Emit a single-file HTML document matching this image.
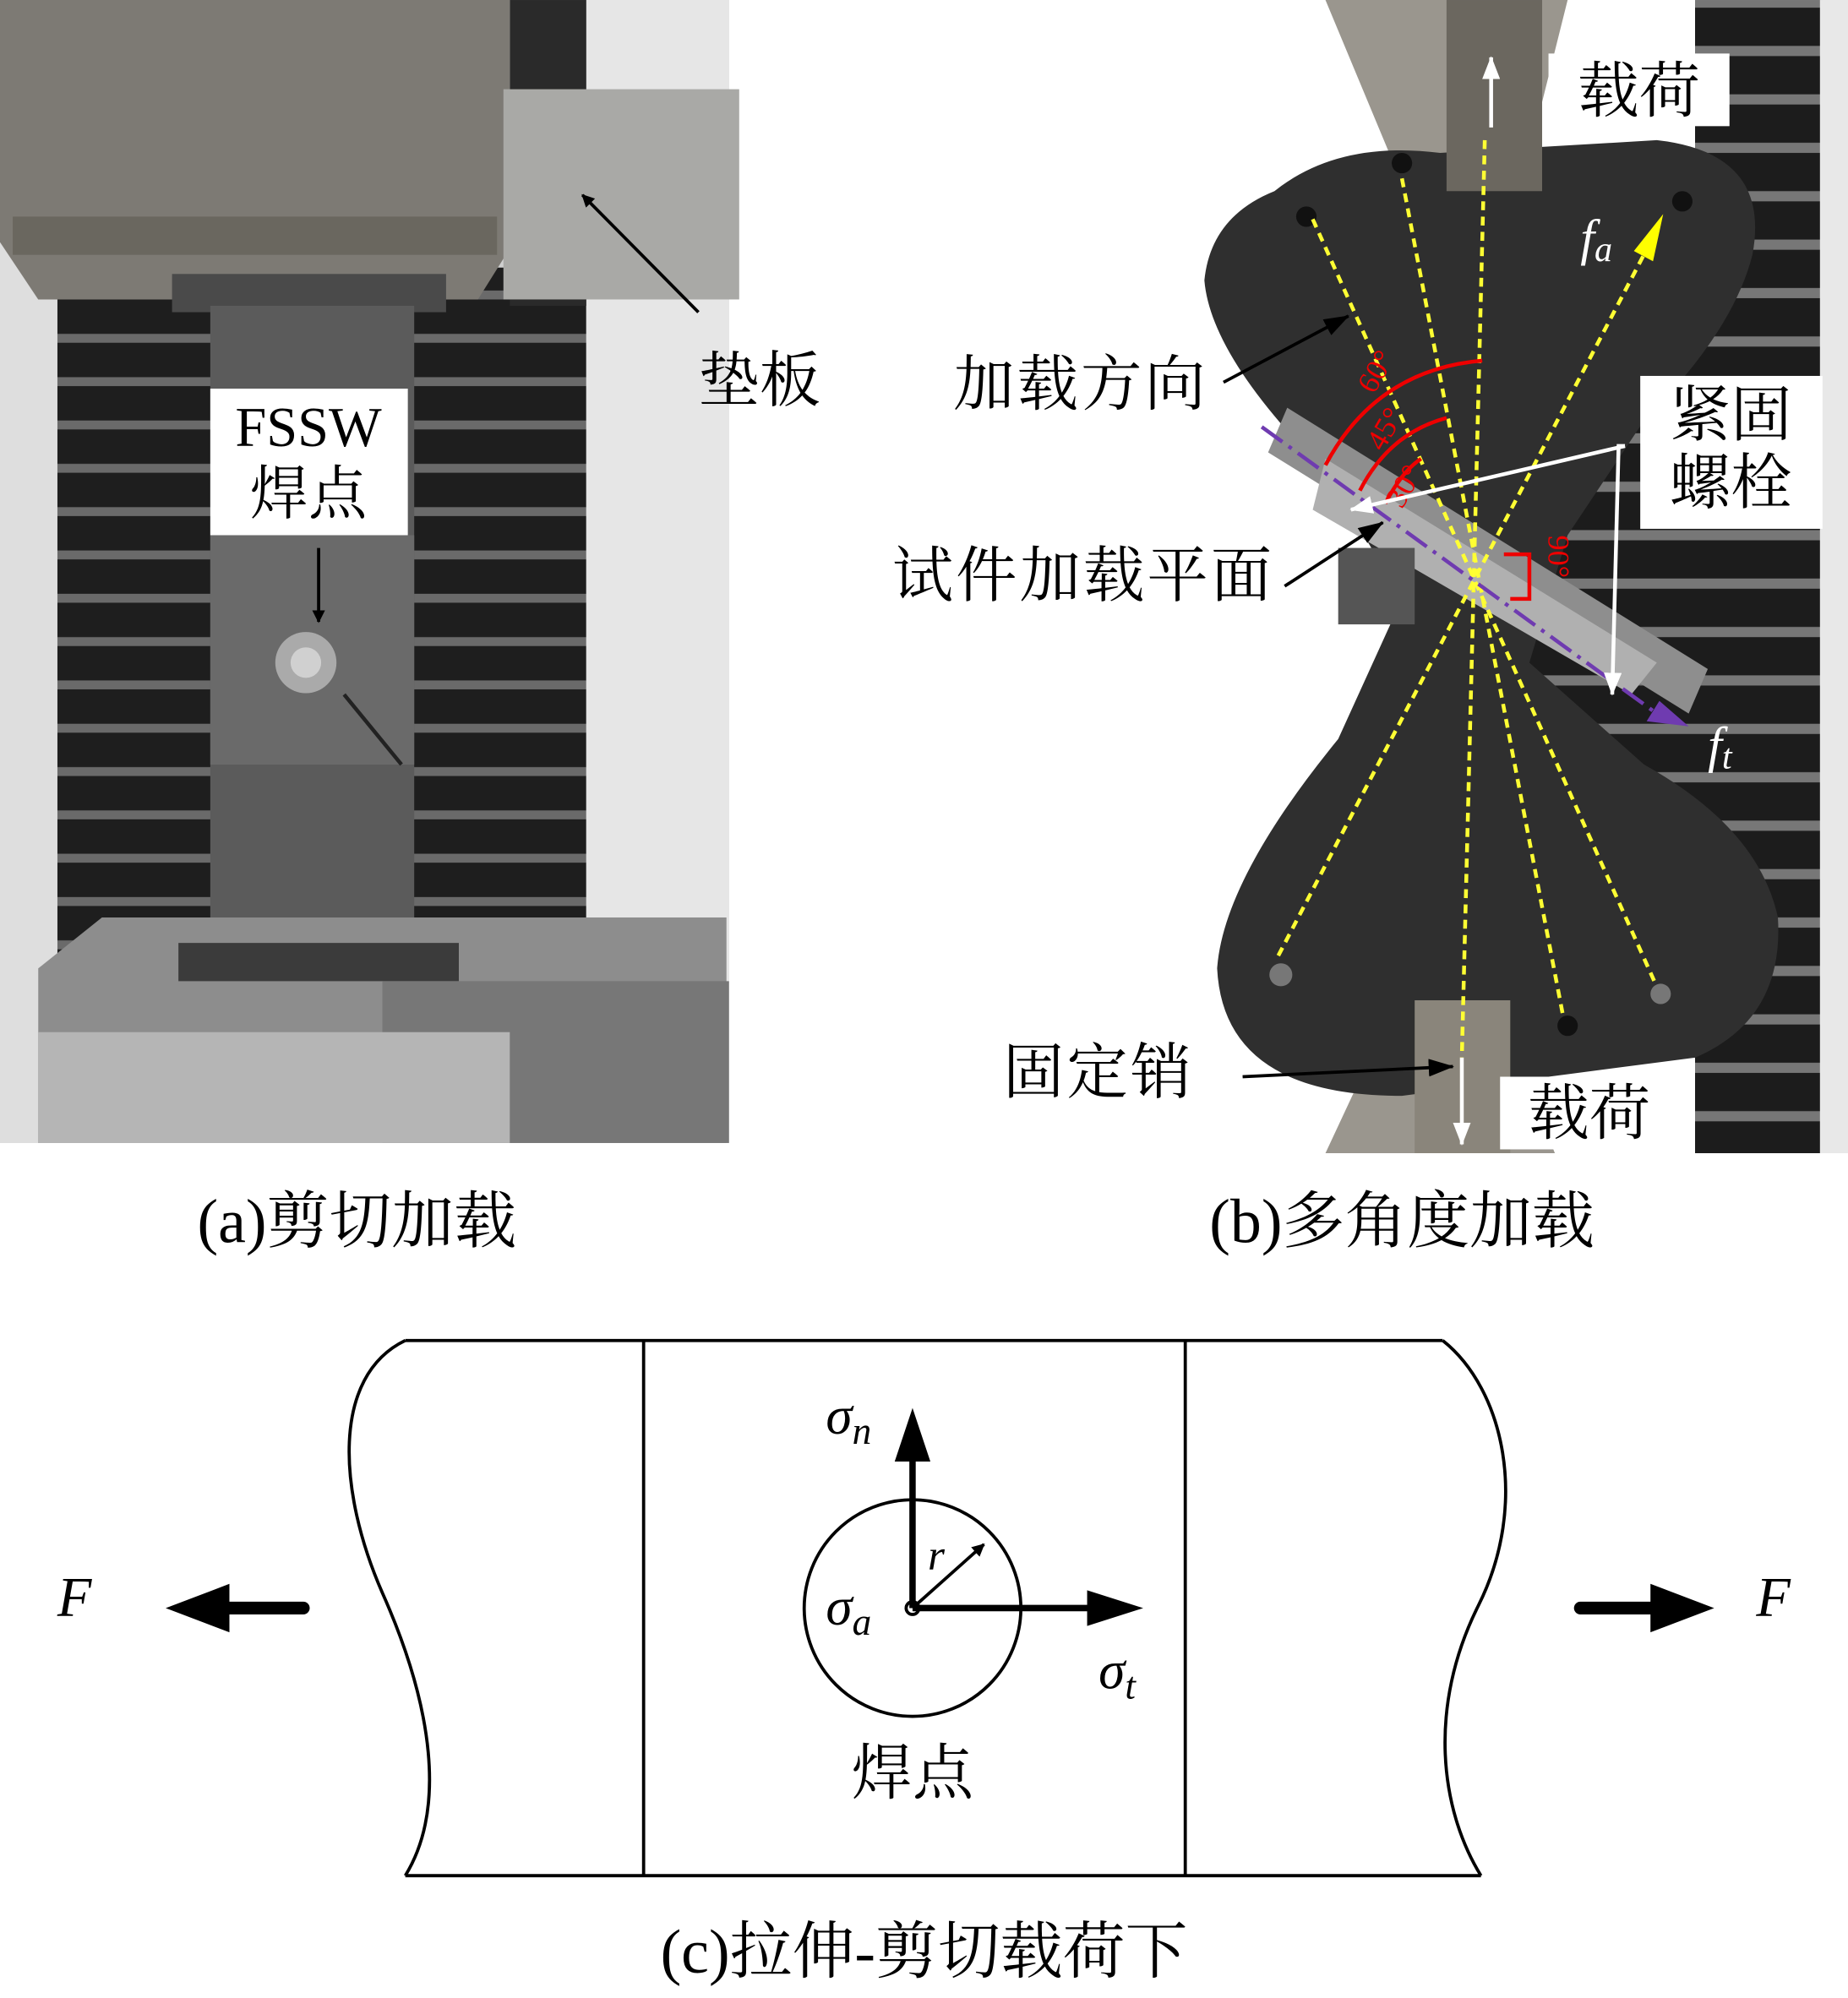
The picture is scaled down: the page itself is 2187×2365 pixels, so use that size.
<!DOCTYPE html>
<html><head><meta charset="utf-8"><style>
html,body{margin:0;padding:0;background:#fff}
svg{display:block}
text{font-family:"Liberation Serif","Noto Serif CJK SC",serif}
.cj{font-family:"Liberation Serif","Noto Serif CJK SC",serif}
</style></head><body>
<svg width="2187" height="2365" viewBox="0 0 1450 1568" xmlns="http://www.w3.org/2000/svg">
<defs>
<pattern id="gr" x="0" y="0" width="40" height="34" patternUnits="userSpaceOnUse">
<rect width="40" height="34" fill="#1e1e1e"/><rect y="24" width="40" height="7" fill="#6a6a6a"/>
</pattern>
<pattern id="gr2" x="0" y="10" width="40" height="38" patternUnits="userSpaceOnUse">
<rect width="40" height="38" fill="#1c1c1c"/><rect y="26" width="40" height="8" fill="#777"/>
</pattern>
<marker id="ab" markerWidth="10" markerHeight="10" refX="9" refY="5" orient="auto" markerUnits="userSpaceOnUse"><path d="M0,0 L10,5 L0,10z" fill="#000"/></marker>
<marker id="aw" markerWidth="18" markerHeight="14" refX="17" refY="7" orient="auto" markerUnits="userSpaceOnUse"><path d="M0,0 L18,7 L0,14z" fill="#fff"/></marker>
<marker id="ab2" markerWidth="20" markerHeight="14" refX="19" refY="7" orient="auto" markerUnits="userSpaceOnUse"><path d="M0,0 L20,7 L0,14z" fill="#000"/></marker>
</defs>

<!-- Panel a -->
<rect x="0" y="0" width="572" height="897" fill="#cfcfcf"/>
<rect x="45" y="210" width="415" height="570" fill="url(#gr)"/>
<rect x="460" y="0" width="112" height="897" fill="#e6e6e6"/>
<rect x="0" y="0" width="45" height="897" fill="#dedede"/>
<rect x="400" y="0" width="60" height="240" fill="#2a2a2a"/>
<path d="M0,0 H400 V195 L375,235 H30 L0,190z" fill="#7d7a74"/>
<rect x="10" y="170" width="380" height="30" fill="#6a675f"/>
<rect x="135" y="215" width="215" height="30" fill="#4a4a4a"/>
<rect x="395" y="70" width="185" height="165" fill="#a9a9a6"/>
<rect x="165" y="240" width="160" height="520" fill="#5b5b5b"/>
<rect x="165" y="420" width="160" height="180" fill="#6a6a6a"/>
<circle cx="240" cy="520" r="24" fill="#aaa"/><circle cx="240" cy="520" r="12" fill="#d0d0d0"/>
<path d="M270,545 L315,600" stroke="#222" stroke-width="3"/>
<path d="M30,760 L80,720 H570 V897 H30z" fill="#8d8d8d"/>
<rect x="140" y="740" width="220" height="30" fill="#3b3b3b"/>
<rect x="300" y="770" width="272" height="127" fill="#777"/>
<rect x="30" y="810" width="370" height="87" fill="#b5b5b5"/>
<rect x="165" y="305" width="155" height="115" fill="#fff"/>
<text x="242" y="350" font-size="44" text-anchor="middle">FSSW</text>
<text class="cj" x="242" y="403" font-size="46" text-anchor="middle">焊点</text>
<line x1="250" y1="430" x2="250" y2="488" stroke="#000" stroke-width="2.5" marker-end="url(#ab)"/>
<line x1="548" y1="245" x2="457" y2="153" stroke="#000" stroke-width="2.5" marker-end="url(#ab)"/>
<text class="cj" x="548" y="315" font-size="48">垫板</text>
<text x="280" y="975" font-size="49" text-anchor="middle" class="cj">(a)剪切加载</text>

<!-- Panel b -->
<rect x="1330" y="0" width="100" height="905" fill="url(#gr2)"/>
<rect x="1120" y="230" width="240" height="600" fill="url(#gr2)"/>
<rect x="1428" y="0" width="22" height="905" fill="#e8e8e8"/>
<path d="M1040,0 H1230 L1200,120 H1090z" fill="#9a968e"/>
<path d="M1040,905 L1075,830 H1190 L1220,905z" fill="#9a968e"/>
<path d="M1000,150 Q1050,110 1130,120 L1300,110 Q1390,120 1375,200 Q1360,260 1290,330 L1230,420 L1200,520 L1290,600 Q1380,650 1395,720 Q1400,800 1330,830 L1100,860 Q960,860 955,760 Q960,690 1050,580 L1100,470 L1040,370 Q950,280 945,220 Q950,170 1000,150z" fill="#2f2f2f"/>
<rect x="1135" y="0" width="75" height="150" fill="#6b675f"/>
<rect x="1110" y="785" width="75" height="120" fill="#8a857b"/>
<path d="M1010,320 L1340,525 L1325,560 L995,355z" fill="#8e8e8e"/>
<path d="M1040,360 L1300,520 L1280,545 L1030,400z" fill="#b0b0b0"/>
<rect x="1050" y="430" width="60" height="60" fill="#555"/>
<circle cx="1025" cy="170" r="8" fill="#111"/><circle cx="1100" cy="128" r="8" fill="#111"/>
<circle cx="1320" cy="158" r="8" fill="#111"/><circle cx="1005" cy="765" r="9" fill="#777"/>
<circle cx="1230" cy="805" r="8" fill="#111"/><circle cx="1303" cy="780" r="8" fill="#777"/>
<g stroke="#ffff33" stroke-width="3" stroke-dasharray="7,5" fill="none">
<line x1="1030" y1="172" x2="1298" y2="770"/>
<line x1="1100" y1="140" x2="1226" y2="795"/>
<line x1="1165" y1="110" x2="1147" y2="830"/>
<line x1="1003" y1="750" x2="1295" y2="190"/>
</g>
<path d="M1305,168 L1282,197 L1297,205z" fill="#ffff00"/>
<line x1="990" y1="335" x2="1300" y2="560" stroke="#6f3bb0" stroke-width="3" stroke-dasharray="20,6,3,6"/>
<path d="M1325,570 L1292,566 L1302,550z" fill="#6f3bb0"/>
<g stroke="#e00" stroke-width="3" fill="none">
<path d="M1040,365 Q1080,290 1163,283"/>
<path d="M1067,385 Q1090,340 1135,328"/>
<path d="M1087,395 Q1100,370 1115,360"/>
<path d="M1180,435 H1200 V470 H1185"/>
</g>
<text x="1078" y="310" font-size="24" fill="#e00" transform="rotate(-60 1078 310)">60°</text>
<text x="1085" y="355" font-size="24" fill="#e00" transform="rotate(-60 1085 355)">45°</text>
<text x="1100" y="400" font-size="24" fill="#e00" transform="rotate(-60 1100 400)">30°</text>
<text x="1215" y="420" font-size="24" fill="#e00" transform="rotate(90 1215 420)">90°</text>
<line x1="1170" y1="100" x2="1170" y2="45" stroke="#fff" stroke-width="3" marker-end="url(#aw)"/>
<line x1="1147" y1="830" x2="1147" y2="898" stroke="#fff" stroke-width="3" marker-end="url(#aw)"/>
<polyline points="1275,350 1060,400" stroke="#fff" stroke-width="3" fill="none" marker-end="url(#aw)"/>
<polyline points="1275,350 1270,350 1265,545" stroke="#fff" stroke-width="3" fill="none" marker-end="url(#aw)"/>
<rect x="1215" y="42" width="142" height="57" fill="#fff"/>
<text class="cj" x="1286" y="88" font-size="48" text-anchor="middle">载荷</text>
<rect x="1177" y="845" width="141" height="57" fill="#fff"/>
<text class="cj" x="1247" y="890" font-size="48" text-anchor="middle">载荷</text>
<rect x="1287" y="295" width="143" height="120" fill="#fff"/>
<text class="cj" x="1358" y="342" font-size="48" text-anchor="middle">紧固</text>
<text class="cj" x="1358" y="395" font-size="48" text-anchor="middle">螺栓</text>
<text x="1240" y="200" font-size="40" font-style="italic" fill="#fff">f<tspan font-size="28" dy="5">a</tspan></text>
<text x="1340" y="598" font-size="40" font-style="italic" fill="#fff">f<tspan font-size="28" dy="5">t</tspan></text>
<text class="cj" x="748" y="318" font-size="48" letter-spacing="2">加载方向</text>
<line x1="960" y1="300" x2="1058" y2="248" stroke="#000" stroke-width="2.5" marker-end="url(#ab2)"/>
<text class="cj" x="700" y="468" font-size="48" letter-spacing="2">试件加载平面</text>
<line x1="1008" y1="460" x2="1085" y2="410" stroke="#000" stroke-width="2.5" marker-end="url(#ab2)"/>
<text class="cj" x="787" y="858" font-size="48" letter-spacing="2">固定销</text>
<line x1="975" y1="845" x2="1140" y2="837" stroke="#000" stroke-width="2.5" marker-end="url(#ab2)"/>
<text x="1100" y="975" font-size="49" text-anchor="middle" class="cj">(b)多角度加载</text>

<!-- Panel c -->
<g stroke="#000" stroke-width="2.5" fill="none">
<line x1="318" y1="1052" x2="1132" y2="1052"/>
<line x1="318" y1="1472" x2="1162" y2="1472"/>
<line x1="505" y1="1052" x2="505" y2="1472"/>
<line x1="930" y1="1052" x2="930" y2="1472"/>
<path d="M318,1052 C260,1080 265,1170 300,1250 C340,1340 350,1420 318,1472"/>
<path d="M1132,1052 C1180,1090 1200,1180 1160,1260 C1120,1340 1130,1420 1162,1472"/>
<circle cx="716" cy="1262" r="85"/>
<circle cx="716" cy="1262" r="5"/>
</g>
<line x1="716" y1="1262" x2="716" y2="1145" stroke="#000" stroke-width="5"/>
<path d="M716,1105 L702,1147 H730z" fill="#000"/>
<line x1="716" y1="1262" x2="855" y2="1262" stroke="#000" stroke-width="5"/>
<path d="M897,1262 L853,1248 V1276z" fill="#000"/>
<line x1="716" y1="1262" x2="772" y2="1212" stroke="#000" stroke-width="2.5" marker-end="url(#ab)"/>
<path d="M130,1262 L180,1243 V1281z" fill="#000"/>
<line x1="175" y1="1262" x2="238" y2="1262" stroke="#000" stroke-width="10" stroke-linecap="round"/>
<path d="M1345,1262 L1295,1243 V1281z" fill="#000"/>
<line x1="1240" y1="1262" x2="1300" y2="1262" stroke="#000" stroke-width="10" stroke-linecap="round"/>
<text x="45" y="1268" font-size="44" font-style="italic">F</text>
<text x="1378" y="1268" font-size="44" font-style="italic">F</text>
<text x="648" y="1125" font-size="42" font-style="italic">σ<tspan font-size="30" dy="8">n</tspan></text>
<text x="648" y="1275" font-size="42" font-style="italic">σ<tspan font-size="30" dy="8">a</tspan></text>
<text x="862" y="1325" font-size="42" font-style="italic">σ<tspan font-size="30" dy="8">t</tspan></text>
<text x="728" y="1232" font-size="34" font-style="italic">r</text>
<text class="cj" x="716" y="1408" font-size="48" text-anchor="middle">焊点</text>
<text x="725" y="1548" font-size="49" text-anchor="middle" class="cj">(c)拉伸-剪切载荷下</text>
</svg>
</body></html>
